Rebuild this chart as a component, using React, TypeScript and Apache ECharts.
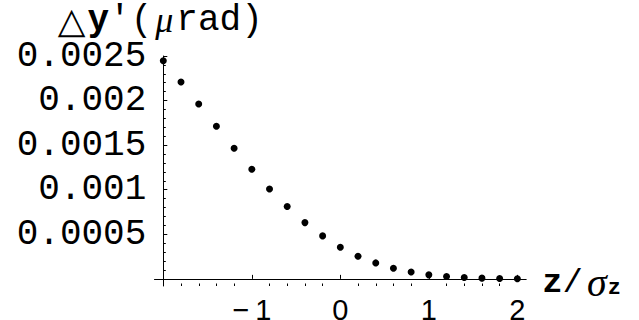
import React, { useEffect, useRef } from "react";
import * as echarts from "echarts";

const zValues = [-2, -1.8, -1.6, -1.4, -1.2, -1, -0.8, -0.6, -0.4, -0.2, 0, 0.2, 0.4, 0.6, 0.8, 1, 1.2, 1.4, 1.6, 1.8, 2];
const dyValues = [
  0.002447, 0.002209, 0.001962, 0.001712, 0.001465, 0.00123, 0.001009, 0.000811, 0.000631, 0.000482,
  0.000355, 0.000254, 0.000179, 0.00012, 0.000078, 0.000045, 0.000026, 0.000015, 0.000008, 0.000004, 0.000002,
];
const xMajorTicks = [-1, 0, 1, 2];
const xMinorTicks = [-1.8, -1.6, -1.4, -1.2, -0.8, -0.6, -0.4, -0.2, 0.2, 0.4, 0.6, 0.8, 1.2, 1.4, 1.6, 1.8];
const yMajorTicks = [0.0005, 0.001, 0.0015, 0.002, 0.0025];
const yMinorTicks = [
  0.0001, 0.0002, 0.0003, 0.0004, 0.0006, 0.0007, 0.0008, 0.0009, 0.0011, 0.0012, 0.0013, 0.0014,
  0.0016, 0.0017, 0.0018, 0.0019, 0.0021, 0.0022, 0.0023, 0.0024,
];

const MONO = "'Liberation Mono', 'DejaVu Sans Mono', monospace";
const SANS = "'Liberation Sans', Arial, sans-serif";
const INK = "#000";

export default function App() {
  const ref = useRef<HTMLDivElement>(null);
  useEffect(() => {
    if (!ref.current) return;
    const chart = echarts.init(ref.current, undefined, { renderer: "svg" });
    const yMin = -0.00008;
    const yMax = 0.0025;
    const top = 56;
    const height = 230;
    chart.setOption({
      animation: false,
      backgroundColor: "#fff",
      grid: [
        { left: 163.3, width: 362.9, top, height, containLabel: false, outerBoundsMode: "none" },
        { left: 154.5, width: 371.7, top, height, containLabel: false, outerBoundsMode: "none" },
      ],
      xAxis: [
        { gridIndex: 0, type: "value", min: -2, max: 2.1, show: false },
        {
          gridIndex: 1,
          type: "value",
          min: -2.1,
          max: 2.1,
          axisLine: { show: true, onZero: true, lineStyle: { color: INK, width: 1 } },
          axisTick: { show: true, inside: true, length: 4, customValues: xMajorTicks, lineStyle: { color: INK } },
          axisLabel: {
            show: true,
            customValues: xMajorTicks,
            margin: 12,
            color: INK,
            fontFamily: SANS,
            fontSize: 29,
            lineHeight: 24,
            formatter: (v: number) => (v < 0 ? "\u2212\u2009" + Math.abs(v) : String(v)),
          },
          splitLine: { show: false },
          name: "{b|z}{n|/}{s|σ}{sub|z}",
          nameLocation: "end",
          nameGap: 16,
          nameTextStyle: {
            align: "left",
            verticalAlign: "middle",
            color: INK,
            fontFamily: MONO,
            fontSize: 34,
            padding: [8, 0, 0, 0],
            rich: {
              b: { fontFamily: MONO, fontSize: 34, fontWeight: "bold", color: INK },
              n: { fontFamily: MONO, fontSize: 34, color: INK },
              s: { fontFamily: "'Liberation Serif', serif", fontSize: 40, fontStyle: "italic", color: INK, padding: [0, 1, 0, 4] },
              sub: { fontFamily: MONO, fontSize: 22, fontWeight: "bold", color: INK, padding: [12, 0, 0, 0] },
            },
          },
        },
        {
          gridIndex: 1,
          type: "value",
          min: -2.1,
          max: 2.1,
          position: "bottom",
          axisLine: { show: false, onZero: true },
          axisTick: { show: true, inside: true, length: 2.5, customValues: xMinorTicks, lineStyle: { color: INK } },
          axisLabel: { show: false },
          splitLine: { show: false },
        },
      ],
      yAxis: [
        {
          gridIndex: 0,
          type: "value",
          min: yMin,
          max: yMax,
          axisLine: { show: true, onZero: false, lineStyle: { color: INK, width: 1 } },
          axisTick: { show: true, inside: true, length: 4, customValues: yMajorTicks, lineStyle: { color: INK } },
          axisLabel: {
            show: true,
            customValues: yMajorTicks,
            margin: 17,
            color: INK,
            fontFamily: MONO,
            fontSize: 36,
            lineHeight: 28,
            formatter: (v: number) => String(parseFloat(v.toFixed(4))),
          },
          splitLine: { show: false },
          name: "{d|△}{b|y}{n|'(}{m|μ}{n|rad)}",
          nameLocation: "end",
          nameGap: 31,
          nameTextStyle: {
            align: "center",
            verticalAlign: "middle",
            color: INK,
            fontFamily: MONO,
            fontSize: 36,
            lineHeight: 26,
            padding: [0, 6, 0, 0],
            rich: {
              d: { fontFamily: "'DejaVu Sans', sans-serif", fontSize: 36, color: INK, lineHeight: 26, padding: [0, 2, 0, 0] },
              b: { fontFamily: MONO, fontSize: 36, fontWeight: "bold", color: INK, lineHeight: 26 },
              n: { fontFamily: MONO, fontSize: 36, color: INK, lineHeight: 26 },
              m: { fontFamily: "'Liberation Serif', serif", fontSize: 36, fontStyle: "italic", color: INK, lineHeight: 26, padding: [0, 3, 0, 3] },
            },
          },
        },
        {
          gridIndex: 0,
          type: "value",
          min: yMin,
          max: yMax,
          position: "left",
          axisLine: { show: false, onZero: false },
          axisTick: { show: true, inside: true, length: 2.5, customValues: yMinorTicks, lineStyle: { color: INK } },
          axisLabel: { show: false },
          splitLine: { show: false },
        },
        { gridIndex: 1, type: "value", min: yMin, max: yMax, show: false },
      ],
      series: [
        {
          type: "scatter",
          xAxisIndex: 0,
          yAxisIndex: 0,
          symbol: "circle",
          symbolSize: 7,
          itemStyle: { color: INK, opacity: 1 },
          data: zValues.map((z, i) => [z, dyValues[i]]),
        },
      ],
    });
    return () => chart.dispose();
  }, []);
  return <div ref={ref} style={{ position: "fixed", left: 0, top: 0, width: 639, height: 320 }} />;
}
